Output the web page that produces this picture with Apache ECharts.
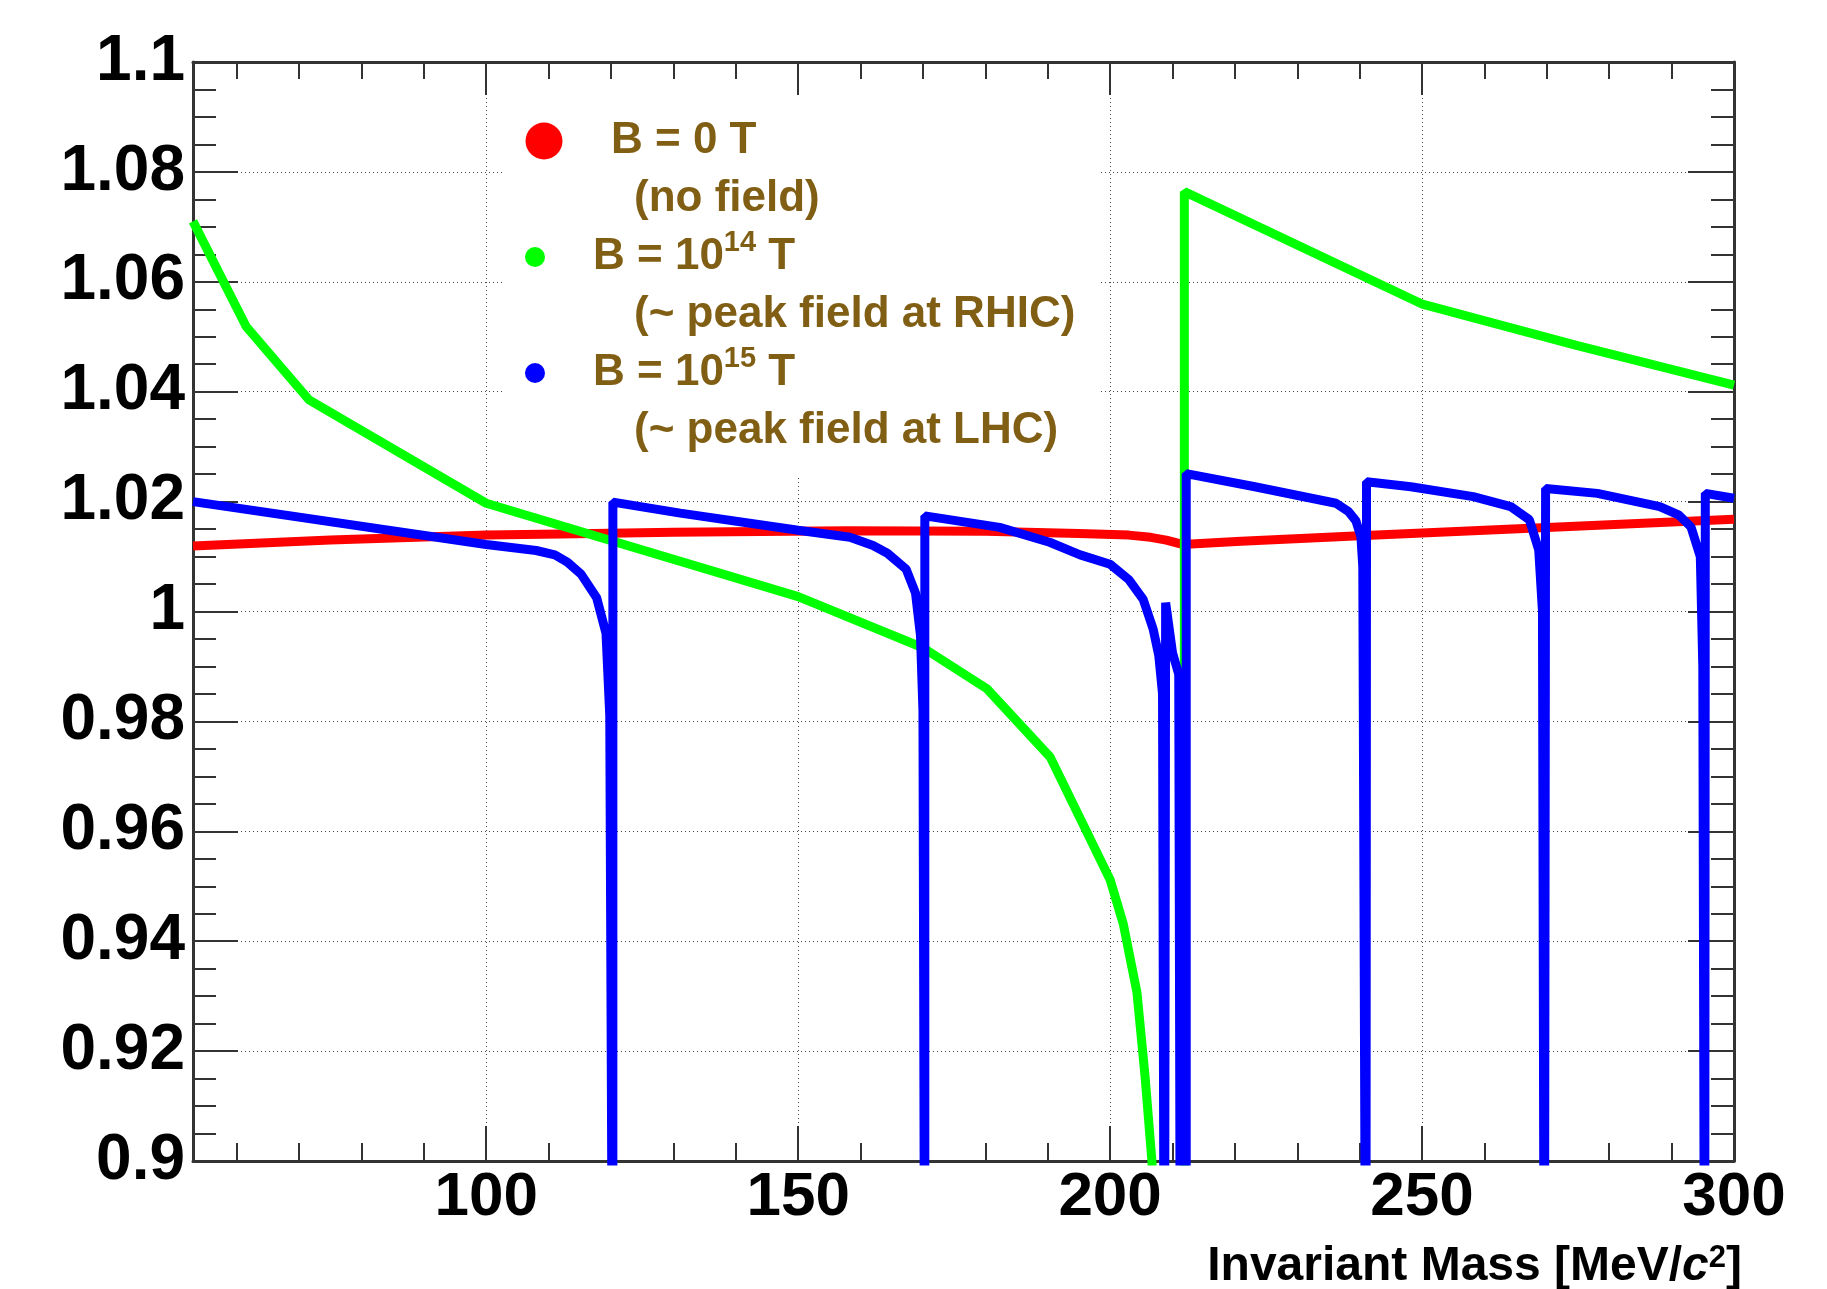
<!DOCTYPE html>
<html>
<head>
<meta charset="utf-8">
<title>Invariant mass ratio vs magnetic field</title>
<script src="https://cdn.jsdelivr.net/npm/echarts@6/dist/echarts.min.js"></script>
<style>
  html, body { margin: 0; padding: 0; background: #fff; }
  #chart { width: 1827px; height: 1289px; }
</style>
</head>
<body>
<div id="chart"></div>
<script>
// B = 0 T (no field)
const redX = [53, 75, 100, 112, 130, 158, 180, 195, 203, 206.5, 209, 211.3, 213, 221, 240, 260, 280, 300];
const redY = [1.0119, 1.0130, 1.0139, 1.0141, 1.0144, 1.0147, 1.0146, 1.0142, 1.0139, 1.0135, 1.0130, 1.0123, 1.0123, 1.0128, 1.0138, 1.0148, 1.0158, 1.0168];

// B = 10^14 T (RHIC); 0.87 / 0.80 run below the frame and get clipped
const greenX = [53, 61.5, 71.6, 100, 150, 170, 180.2, 190.4, 200, 202.1, 204.3, 205.6, 206.7, 208, 211.9, 211.9, 249.9, 274.9, 300];
const greenY = [1.0710, 1.0519, 1.0385, 1.0197, 1.0027, 0.9934, 0.9860, 0.9735, 0.9512, 0.9432, 0.9307, 0.9154, 0.9000, 0.8700, 0.8000, 1.0764, 1.0560, 1.0484, 1.0412];

// B = 10^15 T (LHC); 0.85 marks a dip that leaves the frame
const blueX = [
  53, 100, 108, 111, 113, 115.2, 117.7, 119.2, 119.8, 120.3,
  120.3, 131.1, 150, 158.3, 162, 164.3, 167.3, 168.8, 169.6, 170.0, 170.3,
  170.3, 182.3, 190.3, 195.2, 200, 203, 205.3, 206.9, 207.8, 208.4, 208.7,
  208.8, 208.9, 210.0, 211.0, 211.3, 212.2,
  212.2, 223.2, 236.2, 238.2, 239.4, 240.2, 240.5, 241.0,
  241.1, 241.1, 248.2, 258.2, 264.2, 267.2, 268.7, 269.3, 269.6,
  269.8, 269.8, 278.1, 288.1, 291.1, 293.1, 294.6, 295.0, 295.3,
  295.4, 295.4, 300
];
const blueY = [
  1.0200, 1.0122, 1.0111, 1.0103, 1.0090, 1.0068, 1.0025, 0.9960, 0.9811, 0.85,
  1.0199, 1.0179, 1.0148, 1.0135, 1.0120, 1.0106, 1.0077, 1.0034, 0.9957, 0.9820, 0.85,
  1.0174, 1.0153, 1.0126, 1.0103, 1.0086, 1.0058, 1.0022, 0.9968, 0.9920, 0.9850, 0.85,
  0.85, 1.0016, 0.9925, 0.9886, 0.85, 0.85,
  1.0251, 1.0227, 1.0197, 1.0182, 1.0165, 1.0136, 1.0082, 0.85,
  0.85, 1.0236, 1.0227, 1.0209, 1.0191, 1.0167, 1.0112, 1.0000, 0.85,
  0.85, 1.0224, 1.0215, 1.0191, 1.0176, 1.0154, 1.0100, 0.9900, 0.85,
  0.85, 1.0215, 1.0206
];

const seriesNames = ['B = 0 T', 'B = 10^14 T', 'B = 10^15 T'];
const seriesColors = ['#ff0000', '#00ff00', '#0000ff'];

const FONT = '"Liberation Sans", Arial, Helvetica, sans-serif';
const BROWN = '#805e14';
const AXIS = '#333';

const pairs = (xs, ys) => xs.map((x, i) => [x, ys[i]]);

// legend icons: box is 40x116, the stray moveTo points fix the bounding box
const bigDot = 'path://M0,0M40,116M19,10.5A18.5,18.5,0,1,1,19,47.5A18.5,18.5,0,1,1,19,10.5Z';
const smallDot = 'path://M0,0M40,116M10,19A10,10,0,1,1,10,39A10,10,0,1,1,10,19Z';

const legendText = {
  [seriesNames[0]]: '{a0|B = 0 T}\n{b|(no field)}',
  [seriesNames[1]]: '{a|B = 10}{s|14}{c| T}\n{b|(~ peak field at RHIC)}',
  [seriesNames[2]]: '{a|B = 10}{s|15}{c| T}\n{b|(~ peak field at LHC)}',
};

const legendFont = { fontFamily: FONT, fontSize: 44, fontWeight: 'bold', color: BROWN, lineHeight: 58 };
const titleFont = { fontFamily: FONT, fontSize: 48, fontWeight: 'bold', color: '#000', lineHeight: 48 };

const tick = (length) => ({ show: true, inside: true, length, lineStyle: { color: AXIS, width: 2 } });
const axisLine = { show: true, onZero: false, lineStyle: { color: AXIS, width: 3 } };
const dots = { show: true, lineStyle: { color: '#444', width: 1, type: [1, 3] } };

const chart = echarts.init(document.getElementById('chart'));

chart.setOption({
  animation: false,
  backgroundColor: '#fff',
  grid: { left: 193, right: 93, top: 62, bottom: 128, containLabel: false },
  title: {
    text: '{t|Invariant Mass [MeV/}{i|c}{s|2}{t|]}',
    right: 85,
    top: 1243,
    padding: 0,
    textStyle: {
      rich: {
        t: titleFont,
        i: { ...titleFont, fontStyle: 'italic' },
        s: { ...titleFont, fontSize: 31, lineHeight: 16, verticalAlign: 'top' },
      },
    },
  },
  graphic: [
    // legend pad, hides the grid dots like the ROOT TLegend fill
    { type: 'rect', left: 505, top: 96, z: 3, shape: { width: 593, height: 382 }, style: { fill: '#fff' } },
  ],
  legend: {
    orient: 'vertical',
    left: 525,
    top: 112,
    padding: 0,
    itemGap: 0,
    itemWidth: 40,
    itemHeight: 116,
    selectedMode: false,
    z: 10,
    itemStyle: { borderWidth: 0 },
    data: [
      { name: seriesNames[0], icon: bigDot },
      { name: seriesNames[1], icon: smallDot },
      { name: seriesNames[2], icon: smallDot },
    ],
    formatter: (name) => legendText[name],
    textStyle: {
      ...legendFont,
      rich: {
        a0: { ...legendFont, padding: [0, 0, 0, 41] },
        a: { ...legendFont, padding: [0, 0, 0, 23] },
        c: { ...legendFont },
        s: { fontFamily: FONT, fontSize: 29, fontWeight: 'bold', color: BROWN, lineHeight: 40, verticalAlign: 'top' },
        b: { ...legendFont, padding: [0, 0, 0, 64] },
      },
    },
  },
  xAxis: [
    {
      type: 'value',
      position: 'bottom',
      min: 53,
      max: 300,
      splitNumber: 5,
      axisLine,
      axisTick: tick(35),
      minorTick: { ...tick(18), splitNumber: 5 },
      splitLine: dots,
      axisLabel: {
        showMinLabel: false,
        margin: 6,
        color: '#000',
        fontFamily: FONT,
        fontSize: 62,
        fontWeight: 'bold',
        formatter: (v) => (v % 50 === 0 ? String(v) : ''),
      },
    },
    {
      type: 'value',
      position: 'top',
      min: 53,
      max: 300,
      splitNumber: 5,
      axisLine,
      axisTick: tick(33),
      minorTick: { ...tick(17), splitNumber: 5 },
      splitLine: { show: false },
      axisLabel: { show: false },
    },
  ],
  yAxis: [
    {
      type: 'value',
      position: 'left',
      min: 0.9,
      max: 1.1,
      interval: 0.02,
      axisLine,
      axisTick: tick(45),
      minorTick: { ...tick(23), splitNumber: 4 },
      splitLine: dots,
      axisLabel: {
        margin: 8,
        color: '#000',
        fontFamily: FONT,
        fontSize: 64,
        fontWeight: 'bold',
        formatter: (v) => String(+v.toFixed(2)),
      },
    },
    {
      type: 'value',
      position: 'right',
      min: 0.9,
      max: 1.1,
      interval: 0.02,
      axisLine,
      axisTick: tick(46),
      minorTick: { ...tick(23), splitNumber: 4 },
      splitLine: { show: false },
      axisLabel: { show: false },
    },
  ],
  series: [
    [redX, redY],
    [greenX, greenY],
    [blueX, blueY],
  ].map(([xs, ys], i) => ({
    name: seriesNames[i],
    type: 'line',
    xAxisIndex: 0,
    yAxisIndex: 0,
    data: pairs(xs, ys),
    showSymbol: false,
    clip: true,
    color: seriesColors[i],
    lineStyle: { color: seriesColors[i], width: 9 },
  })),
});

window.addEventListener('resize', () => chart.resize());
</script>
</body>
</html>
